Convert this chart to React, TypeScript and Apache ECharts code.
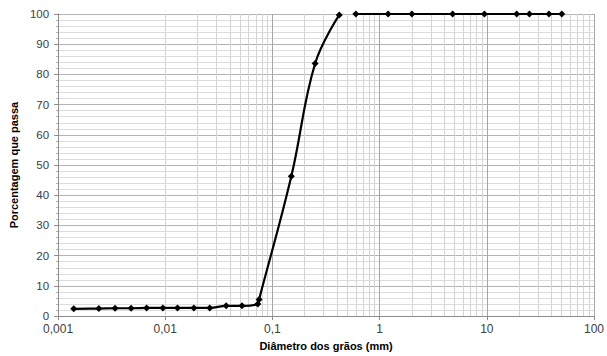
import React, { useEffect, useRef } from "react";
import * as echarts from "echarts";

const fineDiameters = [0.0014, 0.0024, 0.0034, 0.0048, 0.0067, 0.0095, 0.013, 0.0185, 0.026, 0.037, 0.052, 0.073, 0.075, 0.15, 0.25, 0.42];
const finePassing = [2.4, 2.5, 2.6, 2.6, 2.7, 2.7, 2.7, 2.7, 2.7, 3.4, 3.4, 4.0, 5.5, 46.3, 83.6, 99.7];
const coarseDiameters = [0.6, 1.2, 2.0, 4.8, 9.5, 19, 25, 38, 50];
const coarsePassing = [100, 100, 100, 100, 100, 100, 100, 100, 100];
const decades = [0.001, 0.01, 0.1, 1, 10];
const xName = "Diâmetro dos grãos (mm)";
const yName = "Porcentagem que passa";

const minorX: number[] = [];
decades.forEach((d) => {
  for (let k = 2; k <= 9; k++) minorX.push(Number((k * d).toPrecision(6)));
});

const fmt = (v: number) => String(Number(Number(v).toPrecision(6))).replace(".", ",");

export default function App() {
  const ref = useRef<HTMLDivElement>(null);
  useEffect(() => {
    if (!ref.current) return;
    const chart = echarts.init(ref.current, undefined, { renderer: "svg" });
    const font = "'Liberation Sans', Arial, sans-serif";
    const lineSeries = (xs: number[], ys: number[]) => ({
      type: "line",
      data: xs.map((x, i) => [x, ys[i]]),
      smooth: 0.4,
      symbol: "diamond",
      symbolSize: 7,
      itemStyle: { color: "#000" },
      lineStyle: { color: "#000", width: 2.2 },
      z: 5,
    });
    chart.setOption({
      animation: false,
      grid: { left: 54, right: 9, top: 14, bottom: 36, containLabel: false },
      xAxis: {
        type: "log",
        logBase: 10,
        min: 0.001,
        max: 100,
        name: xName,
        nameLocation: "middle",
        nameGap: 22,
        nameTextStyle: { fontFamily: font, fontSize: 11, fontWeight: "bold", color: "#000" },
        axisLine: { show: true, lineStyle: { color: "#8c8c8c" } },
        axisTick: { show: true, length: 4, lineStyle: { color: "#8c8c8c" } },
        axisLabel: { fontFamily: font, fontSize: 12, color: "#404040", margin: 7, formatter: fmt },
        splitLine: { show: true, lineStyle: { color: "#a6a6a6", width: 1 } },
      },
      yAxis: {
        type: "value",
        min: 0,
        max: 100,
        interval: 10,
        name: yName,
        nameLocation: "middle",
        nameRotate: 90,
        nameGap: 30,
        nameTextStyle: { fontFamily: font, fontSize: 11, fontWeight: "bold", color: "#000" },
        axisLine: { show: true, lineStyle: { color: "#8c8c8c" } },
        axisTick: { show: true, length: 4, lineStyle: { color: "#8c8c8c" } },
        minorTick: { show: true, splitNumber: 5, length: 2, lineStyle: { color: "#b0b0b0" } },
        axisLabel: { fontFamily: font, fontSize: 11.5, color: "#404040", margin: 9 },
        splitLine: { show: true, lineStyle: { color: "#b3b3b3", width: 1 } },
        minorSplitLine: { show: true, lineStyle: { color: "#dcdcdc", width: 1 } },
      },
      series: [
        {
          type: "line",
          data: [],
          silent: true,
          markLine: {
            silent: true,
            animation: false,
            symbol: ["none", "none"],
            label: { show: false },
            lineStyle: { type: "solid", color: "#d4d4d4", width: 1 },
            data: minorX.map((x) => ({ xAxis: x })),
          },
          z: 1,
        },
        lineSeries(fineDiameters, finePassing),
        lineSeries(coarseDiameters, coarsePassing),
      ],
    });
    return () => chart.dispose();
  }, []);
  return <div ref={ref} style={{ width: 607, height: 356, position: "absolute", left: 0, top: 0, background: "#fff" }} />;
}
